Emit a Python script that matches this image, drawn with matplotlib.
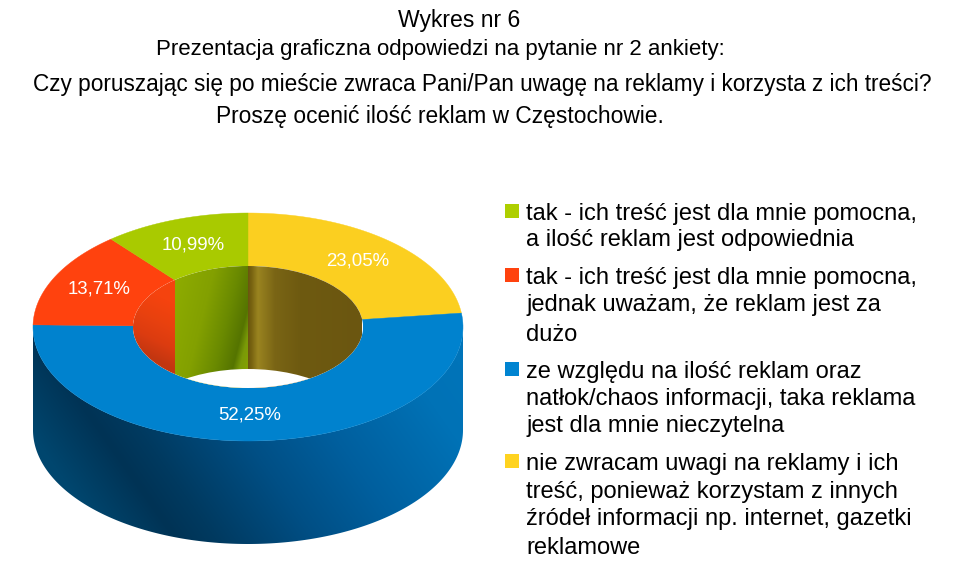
import numpy as np
import matplotlib
matplotlib.use('Agg')
import matplotlib.pyplot as plt
from matplotlib.colors import to_rgb
from matplotlib.patches import Ellipse, Polygon, Rectangle

plt.rcParams['font.family'] = ['Liberation Sans', 'DejaVu Sans']

# clockwise from 12 o'clock, the way the slices run in the picture
shares = [23.05, 52.25, 13.71, 10.99]
share_labels = ['23,05%', '52,25%', '13,71%', '10,99%']
slice_colors = ['#fbcf20', '#0082ce', '#ff420e', '#a9ca00']

legend_colors = ['#aecf00', '#ff420e', '#0084d1', '#ffd320']
legend_lines = [
    ['tak - ich treść jest dla mnie pomocna,', 'a ilość reklam jest odpowiednia'],
    ['tak - ich treść jest dla mnie pomocna,', 'jednak uważam, że reklam jest za', 'dużo'],
    ['ze względu na ilość reklam oraz', 'natłok/chaos informacji, taka reklama', 'jest dla mnie nieczytelna'],
    ['nie zwracam uwagi na reklamy i ich', 'treść, ponieważ korzystam z innych', 'źródeł informacji np. internet, gazetki', 'reklamowe'],
]
title_lines = [
    'Wykres nr 6',
    'Prezentacja graficzna odpowiedzi na pytanie nr 2 ankiety:',
    'Czy poruszając się po mieście zwraca Pani/Pan uwagę na reklamy i korzysta z ich treści?',
    'Proszę ocenić ilość reklam w Częstochowie.',
]

# donut geometry in pixels
cx, cy = 248, 327
rx, ry = 215, 114
hole_rx, hole_ry = 115, 61
depth = 103

# wall shading: colour runs along s = x - slope * (y - y_ref)
outer_shade = ([30, 100, 140, 240, 330, 450, 560],
               ['#00466e', '#003355', '#003a60', '#004f85', '#005f9e', '#0072b6', '#0076bc'])
inner_shade = {
    0: ([248, 251, 258, 275, 300, 363], ['#6a5510', '#75600f', '#9a8420', '#7a6515', '#6e5a10', '#6b5610']),
    2: ([90, 130, 170, 220], ['#c23610', '#dc3c10', '#e8410f', '#f5430e']),
    3: ([160, 200, 225, 243, 250, 262], ['#8fad00', '#83a000', '#6a8a00', '#557400', '#7a9a08', '#8aa600']),
}
inner_slope = {0: 0.0, 2: 2.0, 3: -0.25}


def ellipse_pts(a, b, t, dy=0):
    t = np.radians(t)
    return np.c_[cx + a * np.cos(t), cy - b * np.sin(t) + dy]


def shade_image(x0, x1, y0, y1, stops, slope, y_ref):
    xs, cols = stops
    rgb = np.array([to_rgb(c) for c in cols])
    gx, gy = np.meshgrid(np.arange(x0, x1 + 1) + 0.5, np.arange(y0, y1 + 1) + 0.5)
    s = gx - slope * (gy - y_ref)
    return np.dstack([np.interp(s, xs, rgb[:, i]) for i in range(3)])


def draw_wall(ax, x0, x1, y0, y1, stops, slope, y_ref, clip, zorder):
    img = shade_image(x0, x1, y0, y1, stops, slope, y_ref)
    im = ax.imshow(img, extent=(x0, x1 + 1, y1 + 1, y0), aspect='auto', zorder=zorder, interpolation='bilinear')
    im.set_clip_path(clip)


fig = plt.figure(figsize=(9.66, 5.72), dpi=100)
ax = fig.add_axes([0, 0, 1, 1])

angles = 90 - np.cumsum([0] + shares) * 3.6

# outer side, only the front half shows
ts = np.linspace(-180, 0, 240)
side = Polygon(np.vstack([ellipse_pts(rx, ry, ts), ellipse_pts(rx, ry, ts[::-1], depth)]), fc='none', ec='none')
ax.add_patch(side)
draw_wall(ax, 32, 464, 320, 548, outer_shade, 0.7, 430, side, 1)

# top face
for i, col in enumerate(slice_colors):
    ts = np.linspace(angles[i], angles[i + 1], 120)
    pts = np.vstack([ellipse_pts(rx, ry, ts), ellipse_pts(hole_rx, hole_ry, ts[::-1])])
    ax.add_patch(Polygon(pts, fc=col, ec=col, lw=0.3, zorder=3))

# inside of the hole, the back half of the ring
hole = Ellipse((cx, cy), 2 * hole_rx, 2 * hole_ry, fc='#ffffff', ec='none', zorder=4)
ax.add_patch(hole)
for i in inner_shade:
    xs = ellipse_pts(hole_rx, hole_ry, np.linspace(angles[i], angles[i + 1], 60))[:, 0]
    draw_wall(ax, int(round(xs.min())), int(round(xs.max())) - 1, 262, 392, inner_shade[i],
              inner_slope[i], 327, hole, 5)
# wall ends below the rim, white page shows through
through = Ellipse((cx, cy + depth), 2 * hole_rx, 2 * hole_ry, fc='#ffffff', ec='none', zorder=6)
ax.add_patch(through)
through.set_clip_path(hole)

ax.set_xlim(0, 966)
ax.set_ylim(572, 0)
ax.axis('off')

label_xy = [(358, 261), (250, 415), (99, 289), (193, 245)]
for (x, y), lab in zip(label_xy, share_labels):
    ax.text(x, y, lab, color='white', fontsize=13.4, ha='center', va='center', zorder=8)

title_xy = [(459, 20, 16.6), (440, 49, 16.0), (482, 85, 16.3), (440, 116, 16.4)]
for (x, y, size), line in zip(title_xy, title_lines):
    ax.text(x, y, line, color='black', fontsize=size, ha='center', va='center')

line_y = [[214, 240], [278, 305, 335], [372, 399, 426], [464, 492, 519, 548]]
for col, lines, ys in zip(legend_colors, legend_lines, line_y):
    ax.add_patch(Rectangle((505, ys[0] - 10), 14, 14, fc=col, ec='none'))
    for y, line in zip(ys, lines):
        ax.text(526, y, line, color='black', fontsize=17.0, ha='left', va='center')

fig.savefig('out.png', dpi=100)
